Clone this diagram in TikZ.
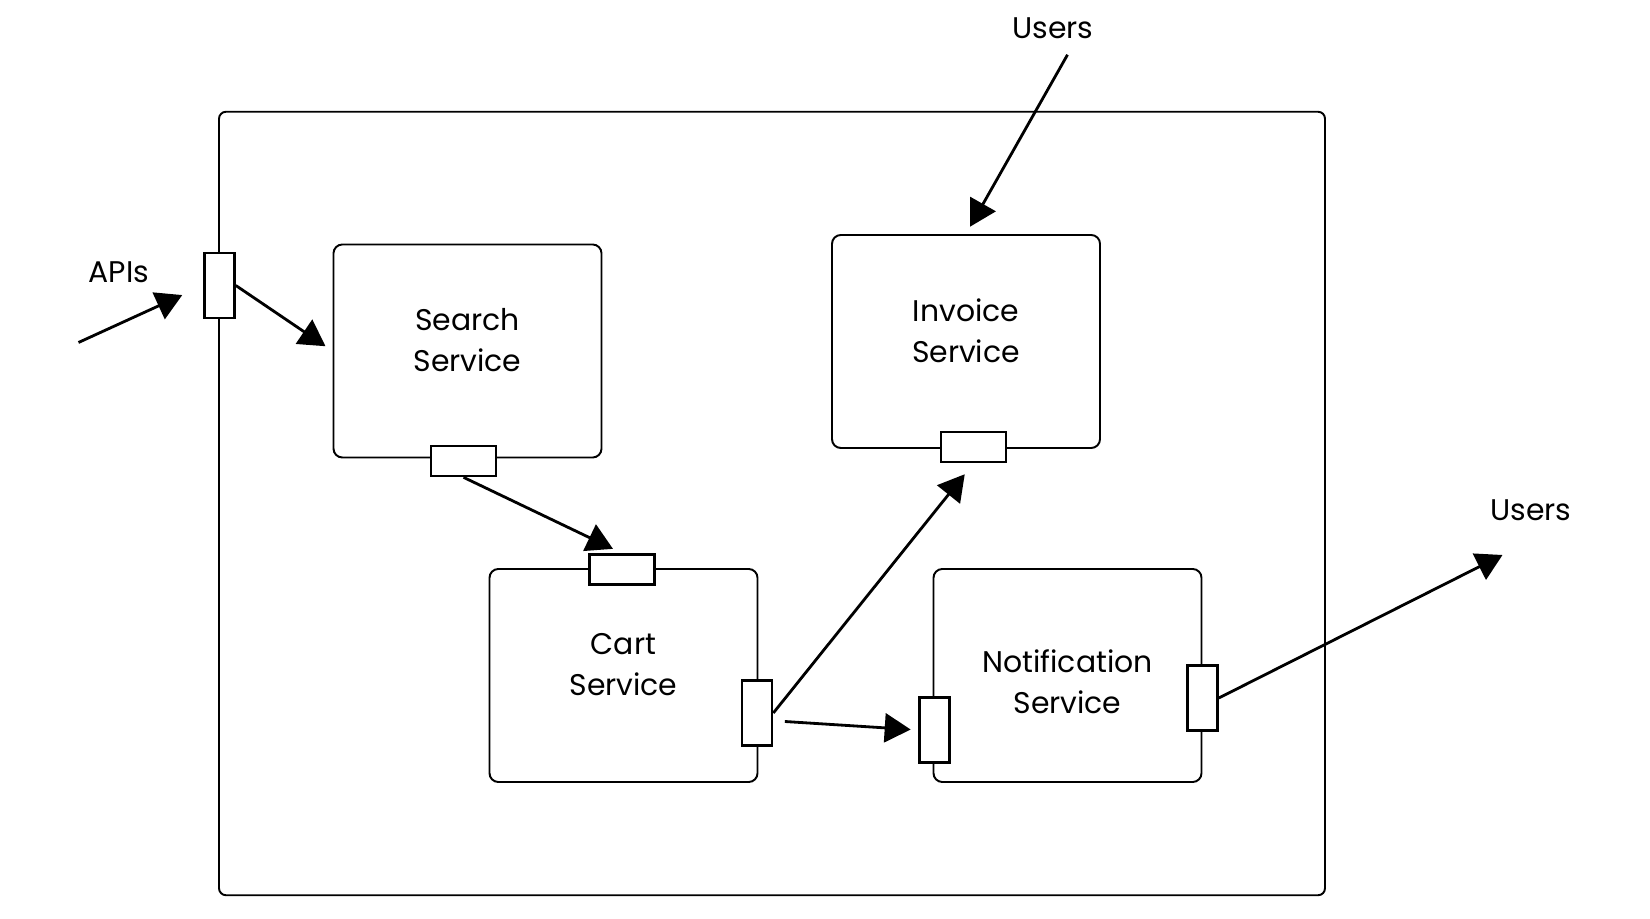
\documentclass[tikz,border=0pt]{standalone}
\usepackage{fontspec}
\setmainfont{Poppins}
\usepackage{tikz}
\usetikzlibrary{arrows.meta,positioning,calc}

\begin{document}
\begin{tikzpicture}[
    svc/.style={rectangle, draw, rounded corners=5pt, line width=1.1pt, minimum width=5.36cm, minimum height=4.26cm},
    svctext/.style={align=center, font=\fontsize{17}{23.3}\selectfont, yshift=0.22cm},
    vport/.style={rectangle, draw, fill=white, line width=1.5pt, minimum width=0.6cm, minimum height=1.3cm, inner sep=0pt},
    hport/.style={rectangle, draw, fill=white, line width=1.5pt, minimum width=1.3cm, minimum height=0.6cm, inner sep=0pt},
    ext/.style={font=\fontsize{17}{23.3}\selectfont},
    arrow/.style={-{Triangle[length=0.52cm, width=0.58cm]}, line width=1.6pt}
]
    \path[use as bounding box, fill=white] (0,0) rectangle (33,18.36);

    % Outer system boundary
    \node[rectangle, draw, rounded corners=4pt, line width=1.1pt, minimum width=22.12cm, minimum height=15.67cm] (system) at (15.44,8.29) {};

    % Services
    \node[svc, label={[svctext]center:Search\\Service}] (search) at (9.35,11.34) {};
    \node[svc, label={[svctext]center:Invoice\\Service}] (invoice) at (19.32,11.53) {};
    \node[svc, label={[svctext]center:Cart\\Service}] (cart) at (12.47,4.85) {};
    \node[svc, label={[svctext, yshift=-0.34cm]center:Notification\\Service}] (notif) at (21.35,4.85) {};

    % Ports
    \node[vport] (apiport) at (4.39,12.65) {};
    \node[hport] (searchout) at (9.27,9.14) {};
    \node[hport] (invoicein) at (19.47,9.42) {};
    \node[hport] (cartin) at (12.44,6.97) {};
    \node[vport] (cartout) at (15.14,4.10) {};
    \node[vport] (notifin) at (18.69,3.76) {};
    \node[vport] (notifout) at (24.05,4.40) {};

    % External labels
    \node[ext] (apis) at (2.38,12.91) {APIs};
    \node[ext] (usersin) at (21.06,17.80) {Users};
    \node[ext] (usersout) at (30.62,8.16) {Users};
    \coordinate (apisrc) at (1.57,11.51);
    \coordinate (userdst) at (30.05,7.26);

    % Connectors
    \draw[arrow, shorten >=0.46cm] (apisrc) -- (apiport.west);
    \draw[arrow, shorten >=0.17cm] (apiport.east) -- (search.west);
    \draw[arrow, shorten >=0.2cm] (searchout.south) -- (cartin.north);
    \draw[arrow, shorten >=0.28cm] (cartout.east) -- (invoicein.south);
    \draw[arrow, shorten >=0.15cm] ([xshift=0.23cm, yshift=-0.17cm]cartout.east) -- (notifin.west);
    \draw[arrow] (notifout.east) -- (userdst);
    \draw[arrow, shorten >=0.17cm] ([xshift=0.29cm, yshift=-0.2cm]usersin.south) -- (invoice.north);
\end{tikzpicture}
\end{document}
